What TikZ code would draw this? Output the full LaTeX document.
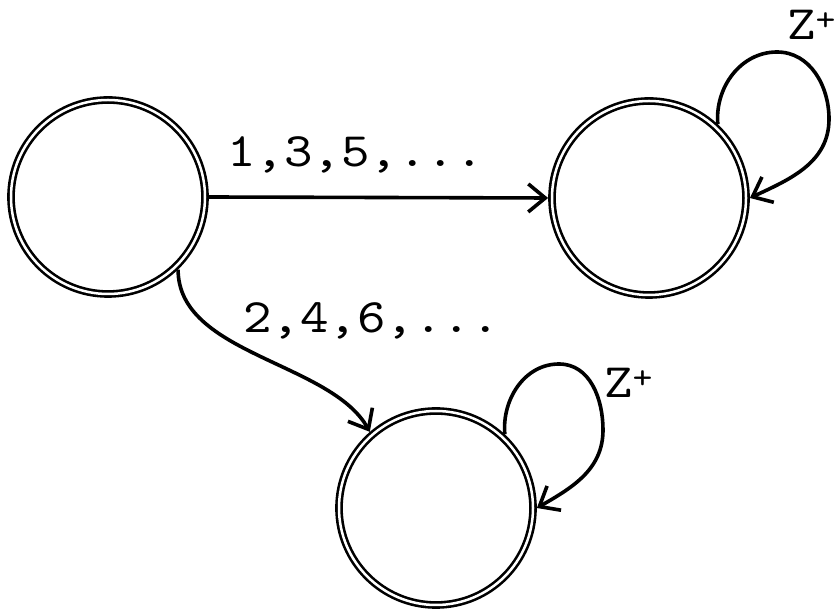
\documentclass[tikz,border=0pt]{standalone}
\usepackage{fontspec}
\newfontfamily\monofont[FakeStretch=1.13]{lmmono10-regular.otf}
\usetikzlibrary{arrows.meta}
\begin{document}
\begin{tikzpicture}[x=1pt,y=1pt,
  state/.style={circle, draw, double, double distance=2.5pt, line width=2.6pt,
    minimum size=194pt, inner sep=0pt, outer sep=3.9pt},
  edge/.style={line width=3.6pt, -{Straight Barb[length=17pt,width=28pt]}},
  lbl/.style={font=\monofont\fontsize{48}{48}\selectfont, inner sep=0pt, anchor=base west}]
\path[use as bounding box, fill=white] (0,0) rectangle (834,609);

\node[state] (A) at (108,412) {};
\node[state] (B) at (649,411) {};
\node[state] (C) at (436,101) {};

\coordinate (bt) at (777,557);
\coordinate (br) at (829,490);
\coordinate (ct) at (559,245);
\coordinate (cr) at (603,179);

\draw[edge] (A.east) -- (B.west);
\draw[edge] (A.-46) .. controls +(0,-85) and +(-39,70) .. (C.131);
\draw[edge] (B.47) to[out=95,in=180] (bt) to[out=0,in=90] (br) to[out=-90,in=25] (B.east);
\draw[edge] (C.47) to[out=95,in=180] (ct) to[out=0,in=90] (cr) to[out=-90,in=30] (C.east);

\node[lbl] (l1) at (227,442) {1,3,5,...};
\node[lbl] (l2) at (243,276) {2,4,6,...};
\node[lbl] (z1) at (787,569) {Z\textsuperscript{+}};
\node[lbl] (z2) at (604,211) {Z\textsuperscript{+}};
\end{tikzpicture}
\end{document}
